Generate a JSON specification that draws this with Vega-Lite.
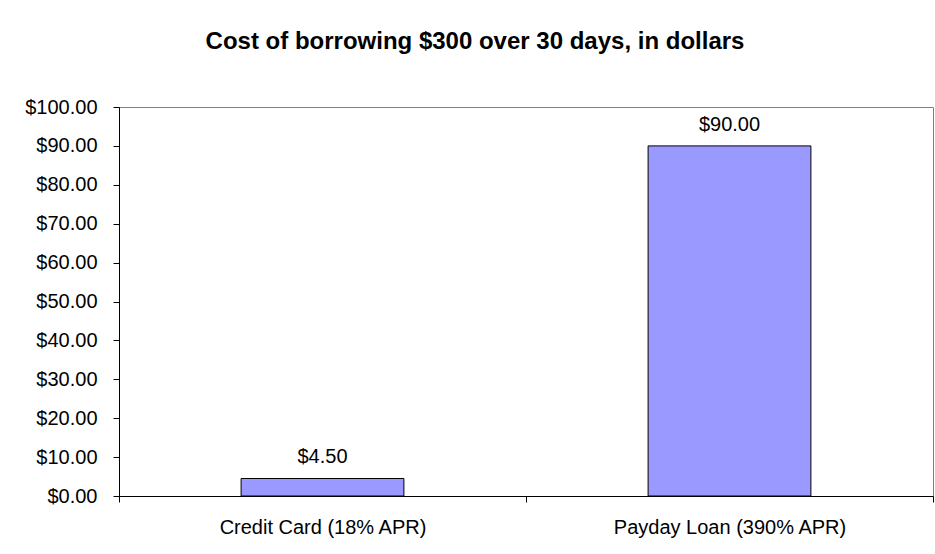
{
  "$schema": "https://vega.github.io/schema/vega-lite/v6.json",
  "autosize": {"type": "none"},
  "width": 814,
  "height": 389,
  "padding": {"left": 119, "top": 107, "right": 2, "bottom": 58},
  "background": "white",
  "title": {
    "text": "Cost of borrowing $300 over 30 days, in dollars",
    "font": "Liberation Sans",
    "fontSize": 24,
    "fontWeight": "bold",
    "color": "black",
    "anchor": "middle",
    "frame": "group",
    "baseline": "alphabetic",
    "offset": 24,
    "dx": -51
  },
  "data": {
    "values": [
      {"option": "Credit Card (18% APR)", "cost": 4.5},
      {"option": "Payday Loan (390% APR)", "cost": 90}
    ]
  },
  "encoding": {
    "x": {
      "field": "option",
      "type": "nominal",
      "sort": null,
      "scale": {"paddingInner": 0, "paddingOuter": 0},
      "axis": {
        "title": null,
        "labelAngle": 0,
        "labelLimit": 0,
        "tickBand": "extent",
        "tickSize": 6,
        "tickColor": "black",
        "domainColor": "black",
        "labelPadding": 15,
        "labelFont": "Liberation Sans",
        "labelFontSize": 20,
        "labelColor": "black",
        "grid": false
      }
    },
    "y": {
      "field": "cost",
      "type": "quantitative",
      "scale": {"domain": [0, 100], "nice": false},
      "axis": {
        "title": null,
        "values": [0, 10, 20, 30, 40, 50, 60, 70, 80, 90, 100],
        "format": "$.2f",
        "grid": false,
        "tickSize": 6,
        "tickColor": "black",
        "domainColor": "black",
        "labelPadding": 16,
        "labelFont": "Liberation Sans",
        "labelFontSize": 20,
        "labelColor": "black"
      }
    }
  },
  "layer": [
    {
      "mark": {"type": "bar", "width": {"band": 0.4}, "fill": "#9999FF", "stroke": "black", "strokeWidth": 1}
    },
    {
      "mark": {"type": "text", "baseline": "alphabetic", "dy": -15, "font": "Liberation Sans", "fontSize": 20, "color": "black"},
      "encoding": {
        "text": {"field": "cost", "type": "quantitative", "format": "$.2f"}
      }
    }
  ],
  "config": {
    "view": {"stroke": "#808080", "strokeWidth": 1}
  }
}
